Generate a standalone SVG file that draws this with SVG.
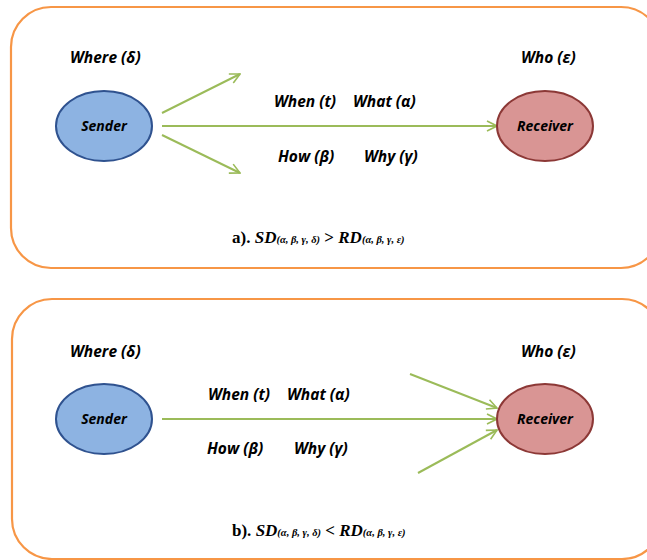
<svg xmlns="http://www.w3.org/2000/svg" width="647" height="560" viewBox="0 0 647 560">
<defs>
<style>
.frame{fill:#fff;stroke:#F79646;stroke-width:2.2}
.snd{fill:#8DB3E2;stroke:#2F528F;stroke-width:2}
.rcv{fill:#D99594;stroke:#8C3836;stroke-width:2}
.lbl{font-family:"Open Sans","Liberation Sans",sans-serif;font-weight:bold;font-style:italic;font-size:15.5px;fill:#000}
.nl{text-anchor:middle;font-size:14px}
.arr{stroke:#9BBB59;stroke-width:2;fill:none}
.cap{font-family:"Liberation Serif",serif;font-weight:bold;font-size:17px;fill:#000}
.sub{font-size:10.5px;font-style:italic;font-weight:bold}
</style>
<marker id="ah" viewBox="0 0 12 12" refX="11" refY="6" markerWidth="12" markerHeight="12" markerUnits="userSpaceOnUse" orient="auto">
<path d="M1,1 L11,6 L1,11" fill="none" stroke="#9BBB59" stroke-width="1.6"/>
</marker>
</defs>
<rect class="frame" x="11" y="7" width="650" height="261" rx="40"/>
<rect class="frame" x="12" y="299" width="650" height="260" rx="40"/>
<g id="connectors">
<line class="arr" x1="162" y1="113" x2="240" y2="74" marker-end="url(#ah)"/>
<line class="arr" x1="162" y1="126" x2="497" y2="126" marker-end="url(#ah)"/>
<line class="arr" x1="162" y1="135" x2="240" y2="173" marker-end="url(#ah)"/>
<line class="arr" x1="162" y1="419" x2="497" y2="419" marker-end="url(#ah)"/>
<line class="arr" x1="410" y1="374" x2="497" y2="408" marker-end="url(#ah)"/>
<line class="arr" x1="418" y1="473" x2="497" y2="430" marker-end="url(#ah)"/>
</g>
<g id="sender-a"><ellipse class="snd" cx="104" cy="126" rx="48" ry="35"/><text class="lbl nl" x="104" y="131">Sender</text></g>
<g id="receiver-a"><ellipse class="rcv" cx="545" cy="126" rx="48" ry="35"/><text class="lbl nl" x="545" y="131">Receiver</text></g>
<g id="sender-b"><ellipse class="snd" cx="104" cy="419" rx="48" ry="35"/><text class="lbl nl" x="104" y="424">Sender</text></g>
<g id="receiver-b"><ellipse class="rcv" cx="545" cy="419" rx="48" ry="35"/><text class="lbl nl" x="545" y="424">Receiver</text></g>
<g id="labels-a">
<text class="lbl" x="70" y="63">Where (δ)</text>
<text class="lbl" x="521" y="63">Who (ε)</text>
<text class="lbl" x="274" y="107">When (t)</text>
<text class="lbl" x="353" y="107">What (α)</text>
<text class="lbl" x="278" y="162">How (β)</text>
<text class="lbl" x="364" y="162">Why (γ)</text>
</g>
<g id="labels-b">
<text class="lbl" x="70" y="357">Where (δ)</text>
<text class="lbl" x="521" y="357">Who (ε)</text>
<text class="lbl" x="208" y="400">When (t)</text>
<text class="lbl" x="287" y="400">What (α)</text>
<text class="lbl" x="207" y="454">How (β)</text>
<text class="lbl" x="294" y="454">Why (γ)</text>
</g>
<text class="cap" x="232" y="243">a). <tspan font-style="italic">SD</tspan><tspan class="sub">(α, β, γ, δ)</tspan> &gt; <tspan font-style="italic">RD</tspan><tspan class="sub">(α, β, γ, ε)</tspan></text>
<text class="cap" x="232" y="536">b). <tspan font-style="italic">SD</tspan><tspan class="sub">(α, β, γ, δ)</tspan> &lt; <tspan font-style="italic">RD</tspan><tspan class="sub">(α, β, γ, ε)</tspan></text>
</svg>
